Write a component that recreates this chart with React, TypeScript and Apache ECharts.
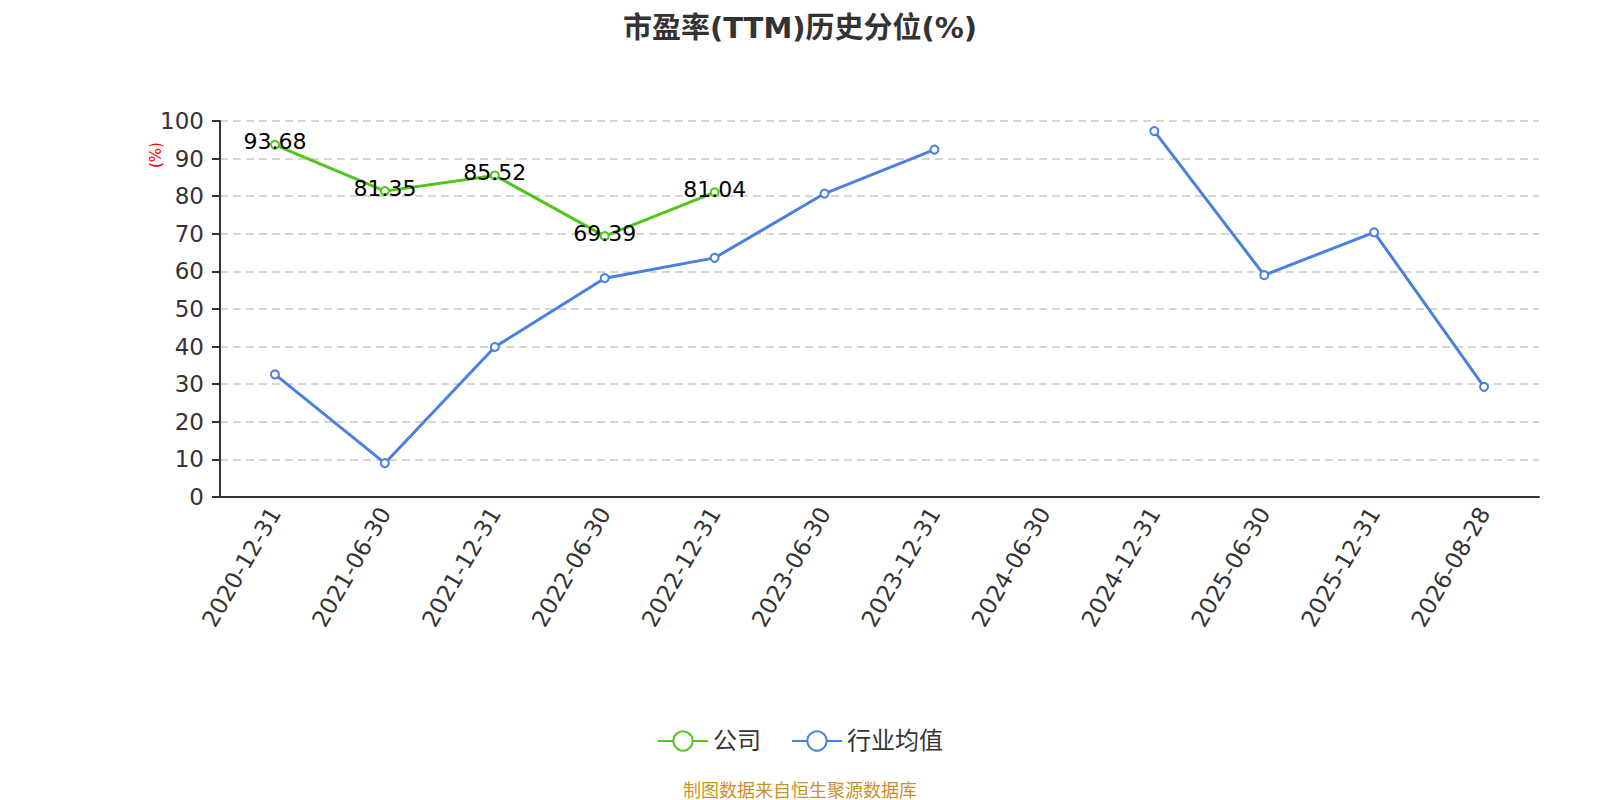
import React, { useEffect, useRef } from "react";
import * as echarts from "echarts";

const categories = [
  "2020-12-31", "2021-06-30", "2021-12-31", "2022-06-30", "2022-12-31", "2023-06-30",
  "2023-12-31", "2024-06-30", "2024-12-31", "2025-06-30", "2025-12-31", "2026-08-28",
];
const companyValues: (number | null)[] = [93.68, 81.35, 85.52, 69.39, 81.04, null, null, null, null, null, null, null];
const industryValues: (number | null)[] = [32.6, 9.0, 39.9, 58.2, 63.6, 80.7, 92.4, null, 97.3, 59.0, 70.4, 29.3];

const FONT = "'DejaVu Sans', 'Noto Sans CJK SC', sans-serif";

export default function App() {
  const ref = useRef<HTMLDivElement>(null);
  useEffect(() => {
    if (!ref.current) return;
    const chart = echarts.init(ref.current, undefined, { renderer: "svg" });
    chart.setOption({
      animation: false,
      title: {
        text: "市盈率(TTM)历史分位(%)",
        left: "center",
        top: 0,
        textStyle: { fontSize: 29, fontWeight: "bold", color: "#333", fontFamily: FONT },
      },
      legend: {
        top: 716,
        left: "center",
        itemWidth: 50,
        itemHeight: 24,
        itemGap: 30,
        textStyle: { fontSize: 24, color: "#333", fontFamily: FONT },
        data: ["公司", "行业均值"],
      },
      grid: { left: 212, right: 53, top: 113, bottom: 303 },
      xAxis: {
        type: "category",
        data: categories,
        boundaryGap: true,
        axisLine: { lineStyle: { color: "#333", width: 2 } },
        axisTick: { alignWithLabel: false, length: 8, lineStyle: { color: "#333", width: 2 } },
        axisLabel: { rotate: 60, fontSize: 23, color: "#333", fontFamily: FONT, interval: 0, margin: 12 },
      },
      yAxis: {
        type: "value",
        min: 0,
        max: 100,
        interval: 10,
        axisLine: { show: true, lineStyle: { color: "#333", width: 2 } },
        axisTick: { show: true, length: 8, lineStyle: { color: "#333", width: 2 } },
        axisLabel: { fontSize: 23, color: "#333", fontFamily: FONT, margin: 16 },
        splitLine: { lineStyle: { type: [8, 5], color: "#c8c8c8", width: 1.5 } },
      },
      graphic: [
        {
          type: "text",
          x: 148,
          y: 147,
          rotation: Math.PI / 2,
          style: {
            text: "(%)",
            fill: "#ff0000",
            fontSize: 15,
            fontFamily: FONT,
            align: "center",
            verticalAlign: "middle",
          },
        },
        {
          type: "text",
          left: "center",
          top: 773,
          style: { text: "制图数据来自恒生聚源数据库", fill: "#c8922a", fontSize: 18, fontFamily: FONT },
        },
      ],
      series: [
        {
          name: "公司",
          type: "line",
          data: companyValues,
          symbol: "emptyCircle",
          symbolSize: 8,
          connectNulls: false,
          lineStyle: { width: 3, color: "#52c41a" },
          itemStyle: { color: "#52c41a", borderWidth: 2 },
          label: {
            show: true,
            position: "inside",
            offset: [0, -3],
            fontSize: 22,
            color: "#000",
            fontFamily: FONT,
          },
        },
        {
          name: "行业均值",
          type: "line",
          data: industryValues,
          symbol: "emptyCircle",
          symbolSize: 8,
          connectNulls: false,
          lineStyle: { width: 3, color: "#4a80e0" },
          itemStyle: { color: "#4a80e0", borderWidth: 2 },
        },
      ],
    });
    return () => chart.dispose();
  }, []);
  return <div ref={ref} style={{ width: 1584, height: 792 }} />;
}
